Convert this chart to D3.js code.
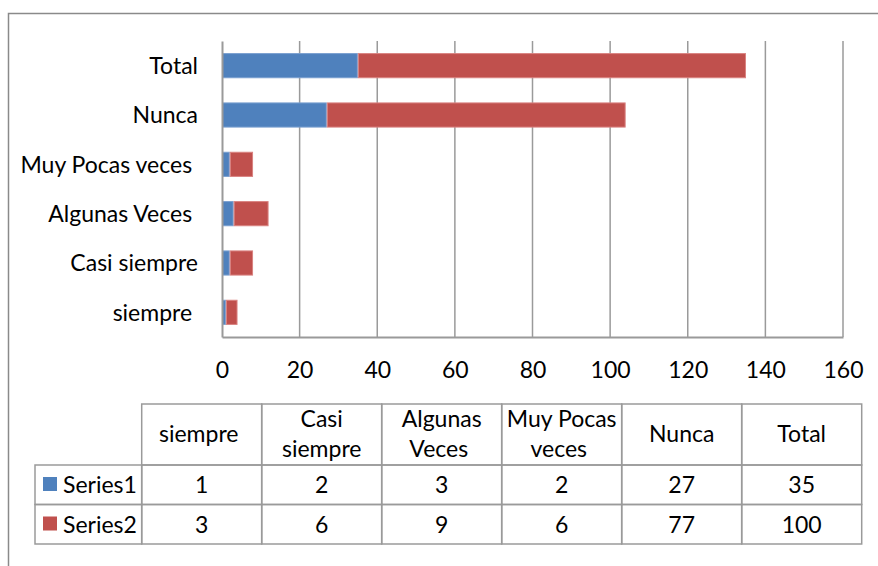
<!DOCTYPE html>
<html>
<head>
<meta charset="utf-8">
<script src="https://cdn.jsdelivr.net/npm/d3@7"></script>
<style>
	body { margin: 0; background: #fff; }
	svg text { font-family: Lato, "Open Sans", sans-serif; fill: #000; white-space: pre; }
</style>
</head>
<body>
<div id="chart"></div>
<script>
// data, as it appears in the sheet (trailing spaces kept)
const categories = ["siempre ", "Casi siempre", "Algunas Veces ", "Muy Pocas veces ", "Nunca", "Total"];
const series1 = [1, 2, 3, 2, 27, 35];
const series2 = [3, 6, 9, 6, 77, 100];
const seriesNames = ["Series1", "Series2"];
const headerLines = [["siempre "], ["Casi", "siempre"], ["Algunas", "Veces "], ["Muy Pocas", "veces "], ["Nunca"], ["Total"]];
const xTicks = [0, 20, 40, 60, 80, 100, 120, 140, 160];

const colors = ["#4F81BD", "#C0504D"];
const strokes = ["#7A9FCF", "#D98280"];
const gridColor = "#9a9a9a";
const fontSize = "23px";

const W = 878, H = 566;
const svg = d3.select("#chart").append("svg")
	.attr("width", W)
	.attr("height", H);

// chart frame
svg.append("rect")
	.attr("x", 8.5).attr("y", 13.5)
	.attr("width", 900).attr("height", 600)
	.attr("fill", "none")
	.attr("stroke", "#8a8a8a")
	.attr("stroke-width", 1.5);

const plot = { left: 222, right: 843, top: 41, bottom: 337 };

const x = d3.scaleLinear()
	.domain([0, 160])
	.range([plot.left, plot.right]);

// categories go bottom-up in the chart
const y = d3.scaleBand()
	.domain(categories)
	.range([plot.bottom, plot.top])
	.paddingInner(0.49)
	.paddingOuter(0.245);

// vertical gridlines
svg.append("g")
	.selectAll("line")
	.data(xTicks.slice(1))
	.enter()
	.append("line")
	.attr("x1", d => x(d)).attr("x2", d => x(d))
	.attr("y1", plot.top).attr("y2", plot.bottom)
	.attr("stroke", gridColor)
	.attr("stroke-width", 1.5);

// stacked bars
const stacked = d3.stack().keys([0, 1])(categories.map((c, i) => ({ cat: c, 0: series1[i], 1: series2[i] })));

stacked.forEach((layer, k) => {
	svg.append("g")
		.selectAll("rect")
		.data(layer)
		.enter()
		.append("rect")
		.attr("x", d => x(d[0]) + 0.5)
		.attr("y", d => y(d.data.cat) + 0.5)
		.attr("width", d => x(d[1]) - x(d[0]) - 1)
		.attr("height", y.bandwidth() - 1)
		.attr("fill", colors[k])
		.attr("stroke", strokes[k])
		.attr("stroke-width", 1);
});

// axes
const xAxis = svg.append("g")
	.attr("transform", `translate(0,${plot.bottom})`)
	.call(d3.axisBottom(x).tickValues(xTicks).tickSize(0).tickPadding(0));
xAxis.select(".domain").attr("stroke", gridColor).attr("stroke-width", 2);
xAxis.selectAll("text")
	.attr("y", 41)
	.attr("dy", 0)
	.attr("font-size", fontSize);

const yAxis = svg.append("g")
	.attr("transform", `translate(${plot.left},0)`)
	.call(d3.axisLeft(y).tickSize(0).tickPadding(0));
yAxis.select(".domain").attr("stroke", gridColor).attr("stroke-width", 2);
yAxis.selectAll("text")
	.attr("x", -24)
	.attr("dy", "0.36em")
	.attr("font-size", fontSize);

// data table below the chart
const table = { left: 35, colLeft: 141.7, colW: 120, headTop: 404, headBottom: 465, rowH: 39.5 };
const tg = svg.append("g");
const lineStyle = sel => sel.attr("stroke", gridColor).attr("stroke-width", 1.5).attr("fill", "none");

// header cells
categories.forEach((c, i) => {
	tg.append("rect")
		.attr("x", table.colLeft + i * table.colW)
		.attr("y", table.headTop)
		.attr("width", table.colW)
		.attr("height", table.headBottom - table.headTop)
		.call(lineStyle);

	const lines = headerLines[i];
	const cx = table.colLeft + i * table.colW + table.colW / 2;
	lines.forEach((ln, j) => {
		tg.append("text")
			.attr("x", cx)
			.attr("y", 442 + (j - (lines.length - 1) / 2) * 30)
			.attr("text-anchor", "middle")
			.attr("font-size", fontSize)
			.text(ln);
	});
});

// series rows
seriesNames.forEach((name, r) => {
	const top = table.headBottom + r * table.rowH;
	const vals = r === 0 ? series1 : series2;

	tg.append("rect")
		.attr("x", table.left)
		.attr("y", top)
		.attr("width", table.colLeft - table.left)
		.attr("height", table.rowH)
		.call(lineStyle);

	tg.append("rect")
		.attr("x", 43)
		.attr("y", top + 12)
		.attr("width", 14)
		.attr("height", 14)
		.attr("fill", colors[r]);

	tg.append("text")
		.attr("x", 63)
		.attr("y", top + table.rowH / 2)
		.attr("dy", "0.36em")
		.attr("font-size", fontSize)
		.text(name);

	vals.forEach((v, i) => {
		tg.append("rect")
			.attr("x", table.colLeft + i * table.colW)
			.attr("y", top)
			.attr("width", table.colW)
			.attr("height", table.rowH)
			.call(lineStyle);

		tg.append("text")
			.attr("x", table.colLeft + i * table.colW + table.colW / 2)
			.attr("y", top + table.rowH / 2)
			.attr("dy", "0.36em")
			.attr("text-anchor", "middle")
			.attr("font-size", fontSize)
			.text(v);
	});
});
</script>
</body>
</html>
